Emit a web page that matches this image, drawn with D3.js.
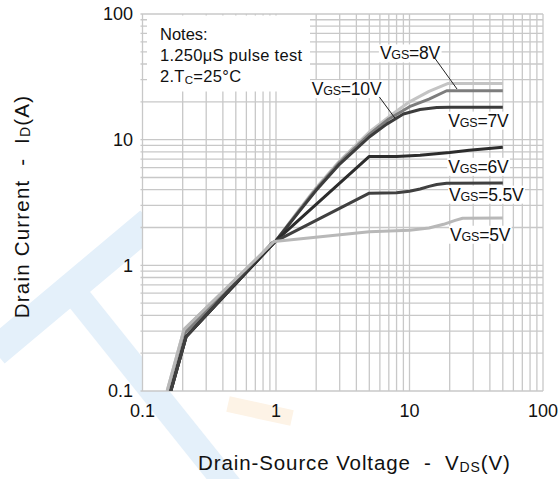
<!DOCTYPE html>
<html>
<head>
<meta charset="utf-8">
<script src="https://cdn.jsdelivr.net/npm/d3@7"></script>
<style>
  html, body { margin: 0; padding: 0; background: #fff; }
  svg { display: block; font-family: "Liberation Sans", Arial, sans-serif; }
</style>
</head>
<body>
<svg id="chart" width="560" height="479"></svg>
<script>
// ---------------- data ----------------
const xTickLabels = ["0.1", "1", "10", "100"];
const yTickLabels = ["0.1", "1", "10", "100"];
const xTickValues = [0.1, 1, 10, 100];
const yTickValues = [0.1, 1, 10, 100];

const seriesNames = ["10V", "8V", "7V", "6V", "5.5V", "5V"];

const vds10 = [0.153, 0.205, 1, 1.5, 2, 3, 5, 7, 10, 14, 19.5, 50];
const id10  = [0.1, 0.31, 1.57, 2.8, 4.15, 6.8, 11.5, 15.2, 20.0, 24.2, 28, 28];

const vds8 = [0.158, 0.208, 1, 1.5, 2, 3, 5, 7, 10, 14, 19, 50];
const id8  = [0.1, 0.29, 1.57, 2.75, 4.05, 6.6, 11.0, 14.6, 18.3, 21.0, 24.5, 24.5];

const vds7 = [0.163, 0.212, 1, 1.5, 2, 3, 5, 6.75, 9, 12, 16, 20, 50];
const id7  = [0.1, 0.27, 1.57, 2.7, 3.95, 6.4, 10.5, 13.3, 16.0, 17.4, 18.0, 18.1, 18.1];

const vds6 = [0.163, 0.212, 1, 5, 8, 12, 20, 28, 50];
const id6  = [0.1, 0.27, 1.57, 7.35, 7.35, 7.5, 7.9, 8.25, 8.7];

const vds55 = [0.163, 0.212, 0.93, 5, 8, 10, 12, 14, 16, 19, 50];
const id55  = [0.1, 0.27, 1.5, 3.75, 3.78, 3.88, 4.05, 4.25, 4.4, 4.5, 4.52];

const vds5 = [0.153, 0.205, 0.97, 5, 10, 14, 18, 22, 25, 50];
const id5  = [0.1, 0.31, 1.55, 1.85, 1.9, 1.98, 2.12, 2.28, 2.37, 2.38];

const seriesVds = [vds10, vds8, vds7, vds6, vds55, vds5];
const seriesId  = [id10, id8, id7, id6, id55, id5];
const seriesColors = ["#c4c4c4", "#7d7d7d", "#3c3c3c", "#2c2c2c", "#404040", "#b8b8b8"];

// label anchors (data space: VDS, ID) for each series label
const labelVds = [1.85, 6.0, 19.5, 19.5, 19.8, 20.1];
const labelId  = [22.6, 43.5, 12.7, 5.45, 3.27, 1.57];

// leader lines (data space)
const leaderNames = ["10V", "8V"];
const leaderVds = [[5.94, 7.79], [15.5, 22.7]];
const leaderId  = [[21.9, 14.8], [44.4, 25.3]];

// ---------------- layout ----------------
const svg = d3.select("#chart");
const plot = { left: 142.5, right: 543, top: 14, bottom: 391 };

const x = d3.scaleLog().domain([0.1, 100]).range([plot.left, plot.right]);
const y = d3.scaleLog().domain([0.1, 100]).range([plot.bottom, plot.top]);

// ---------------- watermark (faint) ----------------
const wm = svg.append("g").attr("class", "watermark");
wm.append("line").attr("x1", -5).attr("y1", 352).attr("x2", 150).attr("y2", 222)
  .attr("stroke", "#e4f0fa").attr("stroke-width", 30);
wm.append("line").attr("x1", 72).attr("y1", 290).attr("x2", 240).attr("y2", 500)
  .attr("stroke", "#e4f0fa").attr("stroke-width", 26);
wm.append("line").attr("x1", 228).attr("y1", 404).attr("x2", 292).attr("y2", 418)
  .attr("stroke", "#fdf3e6").attr("stroke-width", 16);

// plot background
svg.append("rect").attr("x", plot.left).attr("y", plot.top)
  .attr("width", plot.right - plot.left).attr("height", plot.bottom - plot.top)
  .attr("fill", "#fff");

// ---------------- grid ----------------
const gridVals = [];
[0.1, 1, 10].forEach(d => { for (let k = 1; k <= 9; k++) gridVals.push(+(d * k).toPrecision(3)); });
gridVals.push(100);

const grid = svg.append("g").attr("stroke", "#c8c8c8").attr("stroke-width", 1.3);
grid.selectAll("line.v").data(gridVals).join("line").attr("class", "v")
  .attr("x1", d => x(d)).attr("x2", d => x(d))
  .attr("y1", plot.top).attr("y2", plot.bottom);
grid.selectAll("line.h").data(gridVals).join("line").attr("class", "h")
  .attr("y1", d => y(d)).attr("y2", d => y(d))
  .attr("x1", plot.left - 2).attr("x2", plot.right);

// ---------------- notes box ----------------
svg.append("rect").attr("x", 147).attr("y", 15.5).attr("width", 163).attr("height", 76)
  .attr("fill", "#fff");

const notes = svg.append("g").attr("font-size", 16.5).attr("fill", "#111");
notes.append("text").attr("x", 160).attr("y", 39.5).text("Notes:");
notes.append("text").attr("x", 160).attr("y", 61).attr("letter-spacing", 0.3).text("1.250μS pulse test");
const n3 = notes.append("text").attr("x", 160).attr("y", 82).attr("letter-spacing", 0.3);
n3.append("tspan").text("2.T");
n3.append("tspan").attr("font-size", 11.5).attr("dy", 2).text("C");
n3.append("tspan").attr("dy", -2).text("=25°C");

// ---------------- curves ----------------
const clip = svg.append("clipPath").attr("id", "clip");
clip.append("rect").attr("x", plot.left).attr("y", plot.top)
  .attr("width", plot.right - plot.left).attr("height", plot.bottom - plot.top);

const line = d3.line().x(d => x(d[0])).y(d => y(d[1]));
const curves = svg.append("g").attr("clip-path", "url(#clip)");
seriesNames.forEach((name, i) => {
  const pts = seriesVds[i].map((v, j) => [v, seriesId[i][j]]);
  curves.append("path").datum(pts)
    .attr("d", line)
    .attr("fill", "none")
    .attr("stroke", seriesColors[i])
    .attr("stroke-width", 3)
    .attr("stroke-linejoin", "round");
});

// ---------------- series labels ----------------
const labels = svg.append("g");
seriesNames.forEach((name, i) => {
  const g = labels.append("g");
  const t = g.append("text")
    .attr("x", x(labelVds[i])).attr("y", y(labelId[i]))
    .attr("font-size", 17.5).attr("fill", "#111").attr("letter-spacing", -0.2);
  t.append("tspan").text("V");
  t.append("tspan").attr("font-size", 12.5).text("GS");
  t.append("tspan").text("=" + name);
  const bb = t.node().getBBox();
  g.insert("rect", "text")
    .attr("x", bb.x - 1).attr("y", bb.y + 1)
    .attr("width", bb.width + 2).attr("height", bb.height - 2)
    .attr("fill", "#fff");
});

// leader lines
leaderNames.forEach((n, i) => {
  labels.append("line")
    .attr("x1", x(leaderVds[i][0])).attr("y1", y(leaderId[i][0]))
    .attr("x2", x(leaderVds[i][1])).attr("y2", y(leaderId[i][1]))
    .attr("stroke", "#222").attr("stroke-width", 1);
});

// ---------------- axes tick labels ----------------
const tickFont = 18;
svg.append("g").selectAll("text").data(yTickValues).join("text")
  .attr("x", 133).attr("y", d => y(d)).attr("dy", "0.36em")
  .attr("text-anchor", "end").attr("font-size", tickFont).attr("fill", "#111")
  .text((d, i) => yTickLabels[i]);

svg.append("g").selectAll("text").data(xTickValues).join("text")
  .attr("x", d => x(d)).attr("y", 417)
  .attr("text-anchor", "middle").attr("font-size", tickFont).attr("fill", "#111")
  .text((d, i) => xTickLabels[i]);

// ---------------- axis titles ----------------
const xt = svg.append("text").attr("x", 198).attr("y", 470)
  .attr("font-size", 20.5).attr("fill", "#111").attr("letter-spacing", 0.9);
xt.append("tspan").text("Drain-Source Voltage \u00a0-\u00a0 V");
xt.append("tspan").attr("font-size", 14).attr("dy", 1.5).text("DS");
xt.append("tspan").attr("dy", -1.5).text("(V)");

const yt = svg.append("text")
  .attr("transform", "translate(28.5,206.5) rotate(-90)")
  .attr("text-anchor", "middle")
  .attr("font-size", 20.5).attr("fill", "#111").attr("letter-spacing", 1.2);
yt.append("tspan").text("Drain Current \u00a0-\u00a0 I");
yt.append("tspan").attr("font-size", 14).attr("dy", 1.5).text("D");
yt.append("tspan").attr("dy", -1.5).text("(A)");
</script>
</body>
</html>
